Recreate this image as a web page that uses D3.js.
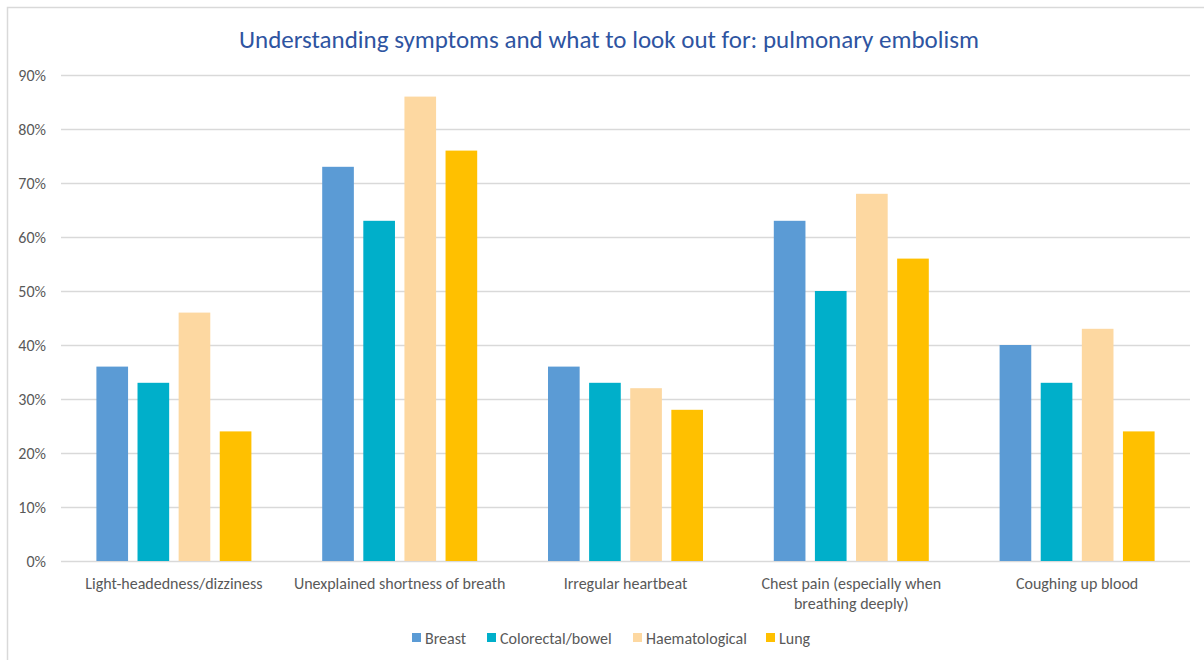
<!DOCTYPE html>
<html>
<head>
<meta charset="utf-8">
<script src="https://cdn.jsdelivr.net/npm/d3@7"></script>
<style>
  body { margin: 0; background: #fff; }
  svg { display: block; font-family: Calibri, Carlito, "Open Sans", sans-serif; }
</style>
</head>
<body>
<div id="chart"></div>
<script>
var categories = [
    ["Light-headedness/dizziness"],
    ["Unexplained shortness of breath"],
    ["Irregular heartbeat"],
    ["Chest pain (especially when", "breathing deeply)"],
    ["Coughing up blood"]
];
var seriesNames = ["Breast", "Colorectal/bowel", "Haematological", "Lung"];
var breast = [0.36, 0.73, 0.36, 0.63, 0.40];
var colorectal = [0.33, 0.63, 0.33, 0.50, 0.33];
var haematological = [0.46, 0.86, 0.32, 0.68, 0.43];
var lung = [0.24, 0.76, 0.28, 0.56, 0.24];
var yTicks = [0, 0.1, 0.2, 0.3, 0.4, 0.5, 0.6, 0.7, 0.8, 0.9];
var colors = ["#5B9BD5", "#00AFCA", "#FDD8A1", "#FFC000"];

var allSeries = [breast, colorectal, haematological, lung];

var svg = d3.select("#chart").append("svg")
    .attr("width", 1204)
    .attr("height", 660);

// frame (only top and left edges show in the shot)
svg.append("path")
    .attr("d", "M7.5,660 V7.5 H1204")
    .attr("fill", "none")
    .attr("stroke", "#d9d9d9")
    .attr("stroke-width", 1.5);

svg.append("text")
    .attr("x", 609)
    .attr("y", 48)
    .attr("text-anchor", "middle")
    .style("font-size", "25px")
    .style("fill", "#2E54A1")
    .text("Understanding symptoms and what to look out for: pulmonary embolism");

var x0 = d3.scaleBand()
    .domain(d3.range(categories.length))
    .range([61, 1190])
    .padding(0);

var x1 = d3.scaleBand()
    .domain(d3.range(seriesNames.length))
    .range([35.4, x0.bandwidth() - 35.4])
    .paddingInner(0.23)
    .paddingOuter(0);

var y = d3.scaleLinear()
    .domain([0, 0.9])
    .range([561, 75]);

// gridlines
svg.append("g").selectAll("line")
    .data(yTicks)
    .enter()
    .append("line")
    .attr("x1", 61)
    .attr("x2", 1190)
    .attr("y1", function (d) { return Math.round(y(d)) + 0.5; })
    .attr("y2", function (d) { return Math.round(y(d)) + 0.5; })
    .attr("stroke", "#d9d9d9")
    .attr("stroke-width", 1.3);

// y labels
svg.append("g").selectAll("text")
    .data(yTicks)
    .enter()
    .append("text")
    .attr("x", 46)
    .attr("y", function (d) { return y(d) + 5.5; })
    .attr("text-anchor", "end")
    .style("font-size", "16px")
    .style("fill", "#595959")
    .text(d3.format(".0%"));

// bars
var groups = svg.append("g").selectAll("g")
    .data(categories)
    .enter()
    .append("g")
    .attr("transform", function (d, i) { return "translate(" + x0(i) + ",0)"; });

groups.selectAll("rect")
    .data(function (d, i) {
        return allSeries.map(function (s, j) { return { s: j, v: s[i] }; });
    })
    .enter()
    .append("rect")
    .attr("x", function (d) { return x1(d.s); })
    .attr("width", x1.bandwidth())
    .attr("y", function (d) { return y(d.v); })
    .attr("height", function (d) { return y(0) - y(d.v); })
    .attr("fill", function (d) { return colors[d.s]; });

// category labels
groups.append("text")
    .attr("text-anchor", "middle")
    .style("font-size", "16px")
    .style("fill", "#595959")
    .selectAll("tspan")
    .data(function (d) { return d; })
    .enter()
    .append("tspan")
    .attr("x", x0.bandwidth() / 2)
    .attr("y", function (d, k) { return 589 + k * 20; })
    .text(function (d) { return d; });

// legend
var legendX = [412, 487, 633, 766];
var legend = svg.append("g").selectAll("g")
    .data(seriesNames)
    .enter()
    .append("g")
    .attr("transform", function (d, i) { return "translate(" + legendX[i] + ",633)"; });

legend.append("rect")
    .attr("width", 9)
    .attr("height", 9)
    .attr("fill", function (d, i) { return colors[i]; });

legend.append("text")
    .attr("x", 13)
    .attr("y", 10.5)
    .style("font-size", "16px")
    .style("fill", "#595959")
    .text(function (d) { return d; });
</script>
</body>
</html>
